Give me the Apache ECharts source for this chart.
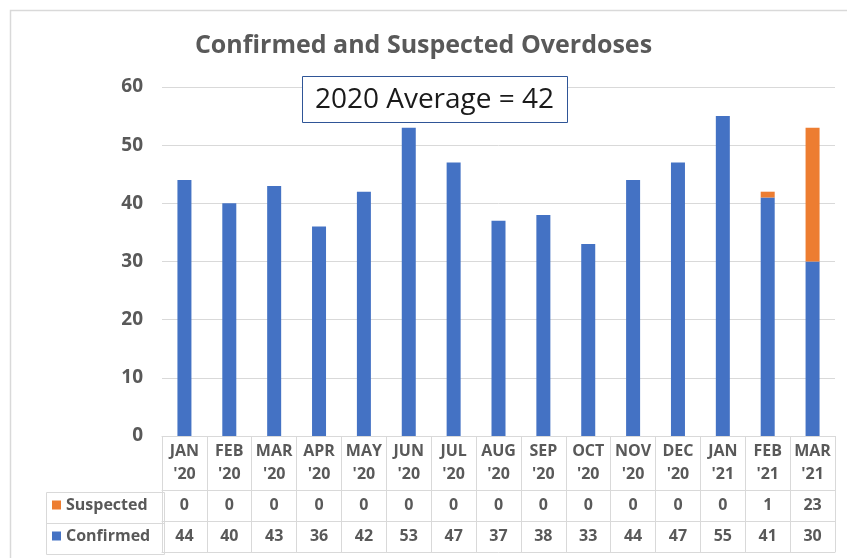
<!DOCTYPE html>
<html>
<head>
<meta charset="utf-8">
<script src="https://cdn.jsdelivr.net/npm/echarts@6/dist/echarts.min.js"></script>
<style>
  html, body { margin: 0; padding: 0; background: #fff; }
  #chart { width: 847px; height: 558px; }
</style>
</head>
<body>
<div id="chart"></div>
<script>
// data
const months = ["JAN\n'20", "FEB\n'20", "MAR\n'20", "APR\n'20", "MAY\n'20", "JUN\n'20", "JUL\n'20",
  "AUG\n'20", "SEP\n'20", "OCT\n'20", "NOV\n'20", "DEC\n'20", "JAN\n'21", "FEB\n'21", "MAR\n'21"];
const suspected = [0, 0, 0, 0, 0, 0, 0, 0, 0, 0, 0, 0, 0, 1, 23];
const confirmed = [44, 40, 43, 36, 42, 53, 47, 37, 38, 33, 44, 47, 55, 41, 30];
const yTicks = [0, 10, 20, 30, 40, 50, 60];

// 2020 average of confirmed counts
const avg2020 = Math.round(confirmed.slice(0, 12).reduce((a, b) => a + b, 0) / 12);

const chart = echarts.init(document.getElementById("chart"));
const font = "'Open Sans', sans-serif";
const gray = "#595959";
const lineGray = "#d9d9d9";

// extra x axes act as the rows of the data table
function rowAxis(values, offset, showLabel) {
  return {
    type: "category",
    data: values.map(String),
    position: "bottom",
    offset: offset,
    axisLine: { show: true, lineStyle: { color: lineGray, width: 1 } },
    axisTick: { show: false },
    axisLabel: {
      show: showLabel,
      margin: 5,
      interval: 0,
      color: gray,
      fontFamily: font,
      fontWeight: "bold",
      fontSize: 16,
      lineHeight: 20
    },
    splitLine: { show: false }
  };
}

const option = {
  animation: false,
  title: {
    text: "Confirmed and Suspected Overdoses",
    left: "center",
    top: 28,
    textStyle: { color: gray, fontFamily: font, fontWeight: "bold", fontSize: 25 }
  },
  legend: {
    data: ["Suspected", "Confirmed"],
    orient: "vertical",
    left: 52,
    top: 495,
    padding: 0,
    itemWidth: 9,
    itemHeight: 9,
    itemGap: 11,
    icon: "rect",
    selectedMode: false,
    textStyle: { color: gray, fontFamily: font, fontWeight: "bold", fontSize: 16, lineHeight: 20 }
  },
  grid: { left: 162, right: 12, top: 87, bottom: 122, containLabel: false },
  xAxis: [
    {
      type: "category",
      data: months,
      axisLine: { show: true, lineStyle: { color: lineGray, width: 1 } },
      axisTick: { show: true, length: 116, lineStyle: { color: lineGray, width: 1 } },
      axisLabel: {
        margin: 4,
        interval: 0,
        color: gray,
        fontFamily: font,
        fontWeight: "bold",
        fontSize: 16,
        lineHeight: 23
      }
    },
    rowAxis(suspected, 54, true),
    rowAxis(confirmed, 85, true),
    rowAxis(confirmed, 116, false)
  ],
  yAxis: {
    type: "value",
    min: yTicks[0],
    max: yTicks[yTicks.length - 1],
    interval: 10,
    axisLine: { show: false },
    axisTick: { show: false },
    axisLabel: { margin: 19, color: gray, fontFamily: font, fontWeight: "bold", fontSize: 19 },
    splitLine: { lineStyle: { color: lineGray, width: 1 } }
  },
  series: [
    {
      name: "Confirmed",
      type: "bar",
      stack: "total",
      barWidth: 14,
      data: confirmed,
      itemStyle: { color: "#4472C4" }
    },
    {
      name: "Suspected",
      type: "bar",
      stack: "total",
      barWidth: 14,
      data: suspected,
      itemStyle: { color: "#ED7D31" }
    }
  ],
  graphic: [
    // outer chart frame
    { type: "rect", left: 8, top: 8, shape: { width: 850, height: 560 },
      style: { fill: null, stroke: lineGray, lineWidth: 1.5 }, silent: true },
    // legend column of the data table
    { type: "rect", left: 44, top: 490, shape: { width: 118, height: 62 },
      style: { fill: null, stroke: lineGray, lineWidth: 1 }, silent: true },
    { type: "line", left: 44, top: 521, shape: { x1: 0, y1: 0, x2: 118, y2: 0 },
      style: { stroke: lineGray, lineWidth: 1 }, silent: true },
    // average annotation
    { type: "rect", left: 302, top: 76, z: 100, shape: { width: 265, height: 46 },
      style: { fill: "#fff", stroke: "#2F5597", lineWidth: 1 }, silent: true },
    { type: "text", x: 434.5, y: 100, z: 101,
      style: { text: "2020 Average = " + avg2020, fill: "#1a1a1a", font: "28px 'Open Sans', sans-serif",
        textAlign: "center", textVerticalAlign: "middle" }, silent: true }
  ]
};

chart.setOption(option);
window.onresize = function () {
  chart.resize();
};
</script>
</body>
</html>
